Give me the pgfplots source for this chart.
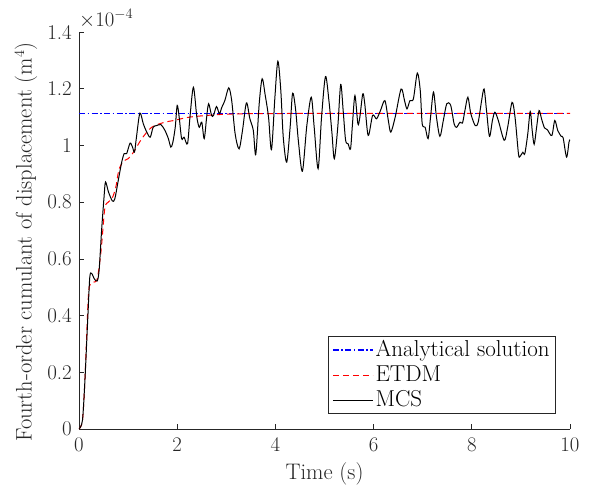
\documentclass[border=0pt]{standalone}
\usepackage{pgfplots}
\pgfplotsset{compat=1.18}
\definecolor{axgray}{rgb}{0.15,0.15,0.15}
\definecolor{mblue}{RGB}{0,0,255}
\definecolor{mred}{RGB}{255,0,0}
\newcommand{\lab}{\fontsize{22.5}{27}\selectfont}
\begin{document}
\fontsize{21}{25}\selectfont
\begin{tikzpicture}
\useasboundingbox (0,0) rectangle (589pt,487pt);
\begin{axis}[
  at={(79pt,58pt)}, anchor=south west,
  scale only axis, width=491pt, height=397pt,
  xmin=0, xmax=10, ymin=0, ymax=1.4,
  axis x line*=bottom, axis y line*=left,
  axis line style={axgray, line width=0.7pt},
  xtick={0,2,4,6,8,10},
  ytick={0,0.2,0.4,0.6,0.8,1,1.2,1.4},
  yticklabels={0,0.2,0.4,0.6,0.8,1,1.2,1.4},
  tick align=inside, major tick length=5pt,
  tick style={axgray, line width=0.7pt},
  ticklabel style={font=\fontsize{21}{25}\selectfont, text=axgray},
  xticklabel style={yshift=-2pt},
  xlabel={\lab Time (s)},
  ylabel={\lab Fourth-order cumulant of displacement (m$^4$)},
  every axis x label/.style={at={(axis description cs:0.5,-0.113)}, anchor=center, text=axgray},
  every axis y label/.style={at={(axis description cs:-0.108,0.471)}, rotate=90, anchor=center, text=axgray},
  legend style={at={(rel axis cs:0.9715,0.0378)}, anchor=south east,
    draw=axgray, line width=0.6pt, inner xsep=4pt, inner ysep=2pt, row sep=2pt,
    font=\fontsize{23}{27}\selectfont, cells={anchor=west}},
  legend image code/.code={\draw[#1] (0pt,0pt) -- (40pt,0pt);},
  clip=false,
]
\addplot[color=mblue, line width=1.2pt, dash pattern=on 6pt off 2.5pt on 1.5pt off 2.5pt] coordinates {(0,1.1127) (10,1.1127)};
\addlegendentry{Analytical solution}
\addplot[color=mred, line width=1pt, dash pattern=on 6pt off 4pt, smooth] coordinates {
(0,0) (0.07,0.03) (0.12,0.17) (0.19,0.466) (0.24,0.513) (0.33,0.519) (0.38,0.536) (0.45,0.63) (0.52,0.771) (0.56,0.795) (0.67,0.812) (0.75,0.853) (0.81,0.912) (0.90,0.944) (1.0,0.953) (1.11,0.976) (1.28,1.024) (1.48,1.064) (1.75,1.082) (1.94,1.088) (2.26,1.10) (2.87,1.109) (3.5,1.112) (5,1.1127) (10,1.1127)};
\addlegendentry{ETDM}
\addplot[color=black, line width=1pt, smooth, tension=0.5] coordinates {
(0,0) (0.07,0.03) (0.12,0.17) (0.18,0.395) (0.22,0.536) (0.26,0.548) (0.31,0.53) (0.37,0.522) (0.41,0.56) (0.46,0.70) (0.51,0.818) (0.54,0.871) (0.60,0.836) (0.68,0.804) (0.73,0.812) (0.80,0.877) (0.87,0.941) (0.92,0.971) (0.97,0.971) (1.04,1.008) (1.09,0.994) (1.13,0.976) (1.17,1.029) (1.24,1.114) (1.31,1.076) (1.38,1.047) (1.45,1.029) (1.51,1.064) (1.58,1.070) (1.67,1.073) (1.75,1.053) (1.82,1.024) (1.87,0.994) (1.91,1.01) (1.96,1.064) (2.0,1.141) (2.04,1.10) (2.09,1.024) (2.14,1.029) (2.21,1.006) (2.26,1.10) (2.33,1.205) (2.40,1.10) (2.45,1.064) (2.50,1.082) (2.55,1.024) (2.60,1.10) (2.64,1.147) (2.70,1.106) (2.74,1.106) (2.80,1.137) (2.86,1.112) (2.91,1.135) (2.97,1.158) (3.05,1.203) (3.11,1.158) (3.18,1.041) (3.26,0.988) (3.33,1.053) (3.41,1.150) (3.48,1.094) (3.55,1.053) (3.60,0.968) (3.67,1.147) (3.73,1.235) (3.79,1.18) (3.86,1.10) (3.92,0.985) (3.99,1.17) (4.05,1.297) (4.11,1.194) (4.16,1.029) (4.23,0.941) (4.30,1.064) (4.35,1.184) (4.41,1.129) (4.47,1.012) (4.55,0.909) (4.64,1.070) (4.73,1.170) (4.79,1.064) (4.87,0.918) (4.94,1.10) (5.02,1.243) (5.09,1.158) (5.15,1.047) (5.20,0.953) (5.27,1.064) (5.33,1.215) (5.38,1.123) (5.43,1.018) (5.48,1.006) (5.53,0.988) (5.57,1.076) (5.62,1.176) (5.68,1.076) (5.72,1.10) (5.78,1.182) (5.82,1.147) (5.89,1.035) (5.98,1.106) (6.06,1.094) (6.14,1.123) (6.23,1.158) (6.30,1.088) (6.35,1.047) (6.44,1.10) (6.56,1.199) (6.63,1.158) (6.68,1.129) (6.74,1.158) (6.81,1.164) (6.89,1.255) (6.95,1.194) (6.99,1.076) (7.05,1.064) (7.11,1.024) (7.16,1.10) (7.22,1.188) (7.28,1.10) (7.35,1.032) (7.42,1.088) (7.49,1.147) (7.57,1.141) (7.64,1.076) (7.69,1.064) (7.76,1.082) (7.81,1.079) (7.86,1.123) (7.92,1.170) (7.98,1.112) (8.07,1.070) (8.13,1.082) (8.20,1.158) (8.25,1.199) (8.30,1.123) (8.36,1.032) (8.42,1.088) (8.47,1.117) (8.54,1.088) (8.66,1.018) (8.73,1.064) (8.82,1.152) (8.88,1.10) (8.95,0.971) (8.98,0.961) (9.04,0.976) (9.08,0.971) (9.14,1.041) (9.19,1.120) (9.23,1.053) (9.27,1.004) (9.32,1.064) (9.37,1.123) (9.42,1.094) (9.48,1.062) (9.54,1.055) (9.63,1.035) (9.69,1.088) (9.75,1.053) (9.82,1.032) (9.86,1.027) (9.93,0.959) (9.98,1.012) (10,1.02)};
\addlegendentry{MCS}
\node[anchor=south west, inner sep=0pt, text=axgray, font=\fontsize{21}{25}\selectfont] at (rel axis cs:0,1.01) {$\times10^{-4}$};
\end{axis}
\end{tikzpicture}
\end{document}
